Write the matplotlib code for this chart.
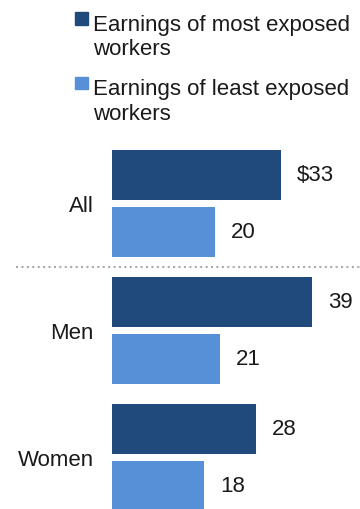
import matplotlib
matplotlib.use("Agg")
import matplotlib.pyplot as plt
from matplotlib.patches import Rectangle
import numpy as np

plt.rcParams['font.family'] = ['Liberation Sans', 'DejaVu Sans']

categories = ["All", "Men", "Women"]
series_names = ["Earnings of most exposed\nworkers", "Earnings of least exposed\nworkers"]
most_exposed = [33, 39, 28]
least_exposed = [20, 21, 18]
most_labels = ["$33", "39", "28"]
least_labels = ["20", "21", "18"]

dark = "#214a7c"
light = "#5790d6"
text_color = "#1a1a1a"

W, H = 360, 510
fig = plt.figure(figsize=(W / 100, H / 100), dpi=100)

ax = fig.add_axes([112 / W, 0, 1 - 112 / W, 1])
ax.set_xlim(0, 248 / 5.13)
ax.set_ylim(2.406, -1.610)

pos = np.arange(len(categories))
h = 0.398
off = 0.2244
ax.barh(pos - off, most_exposed, height=h, color=dark)
ax.barh(pos + off, least_exposed, height=h, color=light)

for y, v, lab in zip(pos - off, most_exposed, most_labels):
    ax.annotate(lab, (v, y), xytext=(11.5, 0), textcoords="offset points",
                ha="left", va="center", fontsize=16, color=text_color)
for y, v, lab in zip(pos + off, least_exposed, least_labels):
    ax.annotate(lab, (v, y), xytext=(11.5, 0), textcoords="offset points",
                ha="left", va="center", fontsize=16, color=text_color)

ax.set_yticks(pos, categories)
ax.tick_params(axis="y", length=0, pad=13, labelsize=16, labelcolor=text_color)
ax.set_xticks([])
for s in ax.spines.values():
    s.set_visible(False)

# dotted separator between the total and the breakdown by sex
trans = matplotlib.transforms.blended_transform_factory(fig.transFigure, ax.transData)
ax.plot([16 / W, 1.0], [0.5, 0.5], transform=trans, clip_on=False,
        color="#aaaaaa", lw=1.5, linestyle=(0, (1, 1.6)), dash_capstyle="butt")

# legend
for i, (name, col) in enumerate(zip(series_names, [dark, light])):
    top = 13.3 + i * 64.2
    fig.patches.append(Rectangle((75 / W, 1 - (top + 12.5) / H), 12.5 / W, 12.5 / H,
                                 transform=fig.transFigure, color=col))
    fig.text(93 / W, 1 - (55.3 + i * 64.4) / H, name, ha="left", va="baseline",
             fontsize=16, color=text_color, linespacing=1.2)

fig.savefig("out.png", dpi=100)
